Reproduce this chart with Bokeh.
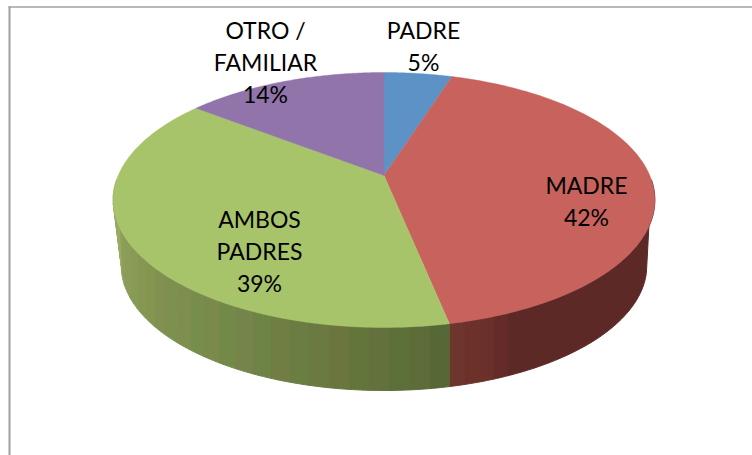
import numpy as np
from itertools import groupby
from bokeh.plotting import figure
from bokeh.embed import file_html
from bokeh.resources import INLINE
from bokeh.core.properties import value

categories = ["PADRE", "MADRE", "AMBOS PADRES", "OTRO / FAMILIAR"]
shares = [4.9, 41.9, 38.7, 14.5]
pct_labels = ["5%", "42%", "39%", "14%"]
top_colors = ["#5C92C6", "#C7625D", "#A8C46B", "#9175AA"]
label_lines = [["PADRE", "5%"], ["MADRE", "42%"], ["AMBOS", "PADRES", "39%"], ["OTRO /", "FAMILIAR", "14%"]]
label_centers = [(423, 45), (586, 200), (259, 250), (265, 61)]
wall_green = ["#9BAC63", "#98AA61", "#95A85F", "#93A560", "#8FA45B", "#8FA25C", "#8B9F59", "#8B9C58", "#869B55",
              "#869753", "#82964F", "#819151", "#7C914D", "#7E8E4E", "#778D4C", "#798A49", "#728948", "#74844A",
              "#6E8346", "#707E44", "#6A7D42", "#6A7A40", "#6A763E", "#64753C", "#63713F", "#5E703A", "#5D6C38", "#566835"]
wall_red = ["#6E342E", "#6C3129", "#6A3029", "#642B29"] + ["#5C2926"] * 24

CX, TOP_APEX, TOP_A, TOP_B, TOP_K = 383.5, 175, 122.8, 265.8, 0.192
BOT_APEX, BOT_A, BOT_B, BOT_K = 240, 120, 257.5, 0.2


def project(theta, apex, a, b, k):
    u, v = np.sin(theta), np.cos(theta)
    w = 1 + k * v
    return CX + b * u / w, apex - a * v / w


def top(theta):
    return project(theta, TOP_APEX, TOP_A, TOP_B, TOP_K)


def bottom(theta):
    return project(theta, BOT_APEX, BOT_A, BOT_B, BOT_K)


p = figure(width=752, height=455, x_range=(0, 752), y_range=(455, 0), output_backend="svg", toolbar_location=None,
           min_border=0)
p.axis.visible = False
p.grid.visible = False
p.outline_line_color = None
p.background_fill_color = "white"

p.line([9, 9], [6, 455], line_color="#A0A0A0", line_width=2)
p.line([8, 752], [6.5, 6.5], line_color="#A0A0A0", line_width=1.5)

edges = np.radians(np.cumsum([0] + shares) * 3.6)
fine = np.radians(np.linspace(80, 280, 801))
xb_fine = bottom(fine)[0]
right = fine[np.argmax(xb_fine)]
left = fine[np.argmin(xb_fine)]
mono = (fine >= right) & (fine <= left)


def bottom_theta_at(x):
    xs = bottom(fine[mono])[0]
    return np.interp(x, xs[::-1], fine[mono][::-1])


def draw_wall(a0, a1, colors):
    bounds = np.linspace(a0, a1, len(colors) + 1)
    i = 0
    for c, run in groupby(colors):
        n = len(list(run))
        t = np.linspace(bounds[i], bounds[i + n], 6 * n)
        xt, yt = top(t)
        tb = np.array([bottom_theta_at(x) for x in xt])
        xb, yb = bottom(tb[::-1])
        p.patch(np.r_[xt, xb], np.r_[yt, yb], fill_color=c, line_color=c, line_width=1)
        i += n


draw_wall(np.radians(92), edges[2], wall_red[::-1])
draw_wall(edges[2], np.radians(268), wall_green[::-1])

for i, c in enumerate(top_colors):
    t = np.linspace(edges[i], edges[i + 1], 120)
    x, y = top(t)
    p.patch(np.r_[CX, x], np.r_[TOP_APEX, y], fill_color=c, line_color=c, line_width=0.4)

for lines, (cx, cy) in zip(label_lines, label_centers):
    n = len(lines)
    ys = [cy + (j - (n - 1) / 2) * 32 for j in range(n)]
    p.text([cx] * n, ys, text=lines, text_align="center", text_baseline="middle",
           text_font=value("Lato"), text_font_size="23px", text_color="#000000")

open("out.html", "w").write(file_html(p, INLINE))
